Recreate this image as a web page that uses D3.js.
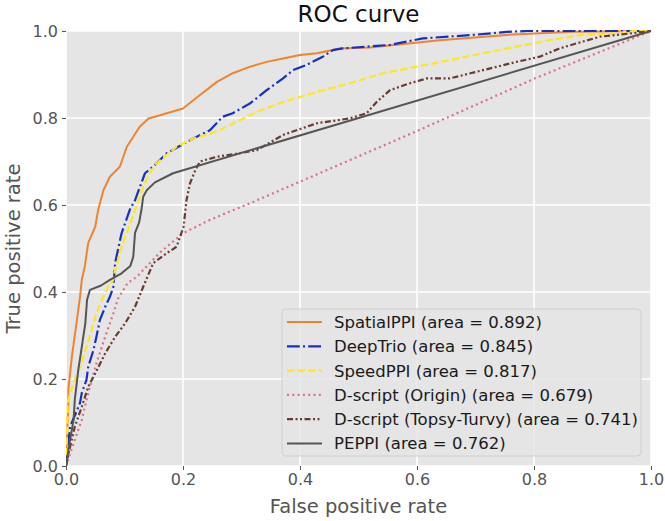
<!DOCTYPE html>
<html>
<head>
<meta charset="utf-8">
<script src="https://cdn.jsdelivr.net/npm/d3@7"></script>
<style>
  html, body { margin: 0; padding: 0; background: #ffffff; }
  svg { display: block; font-family: "DejaVu Sans", sans-serif; }
</style>
</head>
<body>
<svg id="chart" width="665" height="521"></svg>
<script>
// ---------- data ----------
const xTicks = [0.0, 0.2, 0.4, 0.6, 0.8, 1.0];
const yTicks = [0.0, 0.2, 0.4, 0.6, 0.8, 1.0];

const seriesNames = [
  "SpatialPPI (area = 0.892)",
  "DeepTrio (area = 0.845)",
  "SpeedPPI (area = 0.817)",
  "D-script (Origin) (area = 0.679)",
  "D-script (Topsy-Turvy) (area = 0.741)",
  "PEPPI (area = 0.762)"
];

const fprSpatial = [0,0.002,0.004,0.004,0.010,0.018,0.024,0.027,0.032,0.038,0.050,0.055,0.064,0.075,0.092,0.104,0.115,0.126,0.141,0.152,0.200,0.229,0.258,0.285,0.315,0.343,0.371,0.400,0.429,0.468,0.520,0.639,0.753,0.810,0.867,1];
const tprSpatial = [0,0.080,0.140,0.175,0.251,0.329,0.389,0.428,0.458,0.513,0.550,0.589,0.634,0.665,0.688,0.734,0.757,0.780,0.799,0.803,0.822,0.853,0.883,0.903,0.918,0.929,0.937,0.945,0.949,0.960,0.962,0.979,0.991,0.995,0.998,1];

const fprDeepTrio = [0,0.004,0.007,0.024,0.027,0.035,0.038,0.047,0.052,0.058,0.067,0.075,0.081,0.084,0.095,0.109,0.118,0.135,0.149,0.172,0.212,0.246,0.268,0.285,0.315,0.343,0.371,0.388,0.411,0.439,0.456,0.473,0.554,0.610,0.696,0.753,0.788,1];
const tprDeepTrio = [0,0.053,0.090,0.145,0.168,0.198,0.228,0.267,0.297,0.336,0.366,0.389,0.412,0.467,0.535,0.589,0.611,0.673,0.688,0.719,0.749,0.772,0.803,0.811,0.834,0.864,0.891,0.910,0.922,0.941,0.956,0.960,0.968,0.983,0.991,0.998,1.0,1];

const fprSpeed = [0,0.002,0.003,0.007,0.015,0.024,0.035,0.044,0.052,0.064,0.072,0.081,0.083,0.095,0.112,0.132,0.146,0.155,0.189,0.218,0.258,0.297,0.326,0.371,0.429,0.485,0.542,0.600,0.656,0.713,0.770,0.827,0.884,0.941,0.970,1];
const tprSpeed = [0,0.080,0.145,0.168,0.198,0.228,0.274,0.313,0.352,0.389,0.412,0.428,0.444,0.504,0.566,0.642,0.680,0.696,0.734,0.753,0.769,0.795,0.814,0.837,0.860,0.880,0.903,0.918,0.933,0.949,0.964,0.979,0.991,0.995,1.0,1];

const fprOrigin = [0,0.015,0.027,0.035,0.044,0.052,0.067,0.081,0.089,0.105,0.121,0.160,0.200,0.240,0.285,0.325,0.600,0.800,1];
const tprOrigin = [0,0.060,0.106,0.152,0.198,0.236,0.297,0.351,0.385,0.420,0.435,0.490,0.535,0.562,0.588,0.610,0.770,0.890,1];

const fprTopsy = [0,0.007,0.015,0.027,0.038,0.050,0.067,0.084,0.101,0.118,0.132,0.149,0.172,0.189,0.201,0.206,0.212,0.221,0.229,0.258,0.297,0.326,0.371,0.429,0.485,0.514,0.531,0.554,0.588,0.617,0.656,0.713,0.770,0.810,0.844,0.884,0.913,0.969,1];
const tprTopsy = [0,0.044,0.090,0.136,0.182,0.213,0.259,0.297,0.328,0.366,0.412,0.466,0.489,0.504,0.550,0.611,0.650,0.680,0.700,0.711,0.719,0.726,0.761,0.788,0.799,0.811,0.837,0.864,0.880,0.891,0.891,0.910,0.929,0.941,0.960,0.976,0.987,0.995,1];

const fprPeppi = [0,0.007,0.013,0.015,0.021,0.027,0.033,0.036,0.041,0.060,0.075,0.095,0.110,0.115,0.118,0.125,0.129,0.132,0.138,0.152,0.183,1];
const tprPeppi = [0,0.060,0.106,0.152,0.221,0.274,0.328,0.382,0.405,0.415,0.428,0.443,0.460,0.481,0.536,0.560,0.589,0.619,0.634,0.652,0.673,1];

// ---------- layout ----------
const svg = d3.select("#chart");
const mLeft = 66, mRight = 651, mTop = 31, mBottom = 466;
const x = d3.scaleLinear().domain([0, 1]).range([mLeft, mRight]);
const y = d3.scaleLinear().domain([0, 1]).range([mBottom, mTop]);

const styles = [
  { color: "#F0842E", dash: null, width: 2 },
  { color: "#1530C4", dash: "12.8,3.2,2,3.2", width: 2.2 },
  { color: "#FFE61E", dash: "7.4,3.2", width: 2.2 },
  { color: "#DB6F85", dash: "2,3.3", width: 2.2 },
  { color: "#6B3B30", dash: "6,2.5,2,2.5,2,2.5", width: 2.2 },
  { color: "#555555", dash: null, width: 2 }
];

const series = [
  [fprSpatial, tprSpatial],
  [fprDeepTrio, tprDeepTrio],
  [fprSpeed, tprSpeed],
  [fprOrigin, tprOrigin],
  [fprTopsy, tprTopsy],
  [fprPeppi, tprPeppi]
];

// background
svg.append("rect").attr("x", mLeft).attr("y", mTop)
  .attr("width", mRight - mLeft).attr("height", mBottom - mTop)
  .attr("fill", "#E5E5E5");

// grid
const grid = svg.append("g");
grid.selectAll("line.gx").data(xTicks).join("line")
  .attr("class", "gx")
  .attr("x1", d => x(d)).attr("x2", d => x(d))
  .attr("y1", mTop).attr("y2", mBottom)
  .attr("stroke", "#ffffff").attr("stroke-width", 1.6);
grid.selectAll("line.gy").data(yTicks).join("line")
  .attr("class", "gy")
  .attr("y1", d => y(d)).attr("y2", d => y(d))
  .attr("x1", mLeft).attr("x2", mRight)
  .attr("stroke", "#ffffff").attr("stroke-width", 1.6);

// axes
const xAxis = d3.axisBottom(x).tickValues(xTicks).tickFormat(d3.format(".1f"))
  .tickSize(4).tickPadding(4);
const yAxis = d3.axisLeft(y).tickValues(yTicks).tickFormat(d3.format(".1f"))
  .tickSize(4).tickPadding(4);

const gx = svg.append("g").attr("transform", `translate(0,${mBottom})`).call(xAxis);
const gy = svg.append("g").attr("transform", `translate(${mLeft},0)`).call(yAxis);
[gx, gy].forEach(g => {
  g.select(".domain").remove();
  g.selectAll(".tick line").attr("stroke", "#555555").attr("stroke-width", 1);
  g.selectAll(".tick text").attr("fill", "#555555")
    .style("font-family", "DejaVu Sans").style("font-size", "16px");
});

// clip
svg.append("clipPath").attr("id", "clip").append("rect")
  .attr("x", mLeft).attr("y", mTop - 1).attr("width", mRight - mLeft + 1).attr("height", mBottom - mTop + 2);

const line = d3.line().x(d => x(d[0])).y(d => y(d[1]));
const plot = svg.append("g").attr("clip-path", "url(#clip)");
series.forEach((s, i) => {
  const pts = s[0].map((v, k) => [v, s[1][k]]);
  plot.append("path")
    .attr("d", line(pts))
    .attr("fill", "none")
    .attr("stroke", styles[i].color)
    .attr("stroke-width", styles[i].width)
    .attr("stroke-dasharray", styles[i].dash)
    .attr("stroke-linejoin", "round");
});

// title and axis labels
svg.append("text").attr("x", (mLeft + mRight) / 2).attr("y", 22)
  .attr("text-anchor", "middle").attr("fill", "#111111")
  .style("font-size", "23px").text("ROC curve");
svg.append("text").attr("x", (mLeft + mRight) / 2).attr("y", 513)
  .attr("text-anchor", "middle").attr("fill", "#555555")
  .style("font-size", "19.5px").text("False positive rate");
svg.append("text").attr("transform", `translate(20,${(mTop + mBottom) / 2}) rotate(-90)`)
  .attr("text-anchor", "middle").attr("fill", "#555555")
  .style("font-size", "19.5px").text("True positive rate");

// legend
const lg = svg.append("g");
lg.append("rect").attr("x", 282).attr("y", 309).attr("width", 359).attr("height", 147)
  .attr("rx", 4).attr("fill", "#E5E5E5").attr("fill-opacity", 0.85)
  .attr("stroke", "#D0D0D0").attr("stroke-width", 1);
seriesNames.forEach((name, i) => {
  const cy = 322 + i * 24.3;
  lg.append("line").attr("x1", 287).attr("x2", 322).attr("y1", cy).attr("y2", cy)
    .attr("stroke", styles[i].color).attr("stroke-width", styles[i].width)
    .attr("stroke-dasharray", styles[i].dash);
  lg.append("text").attr("x", 334).attr("y", cy).attr("dy", "0.36em")
    .attr("fill", "#1a1a1a").style("font-size", "16.5px").text(name);
});
</script>
</body>
</html>
